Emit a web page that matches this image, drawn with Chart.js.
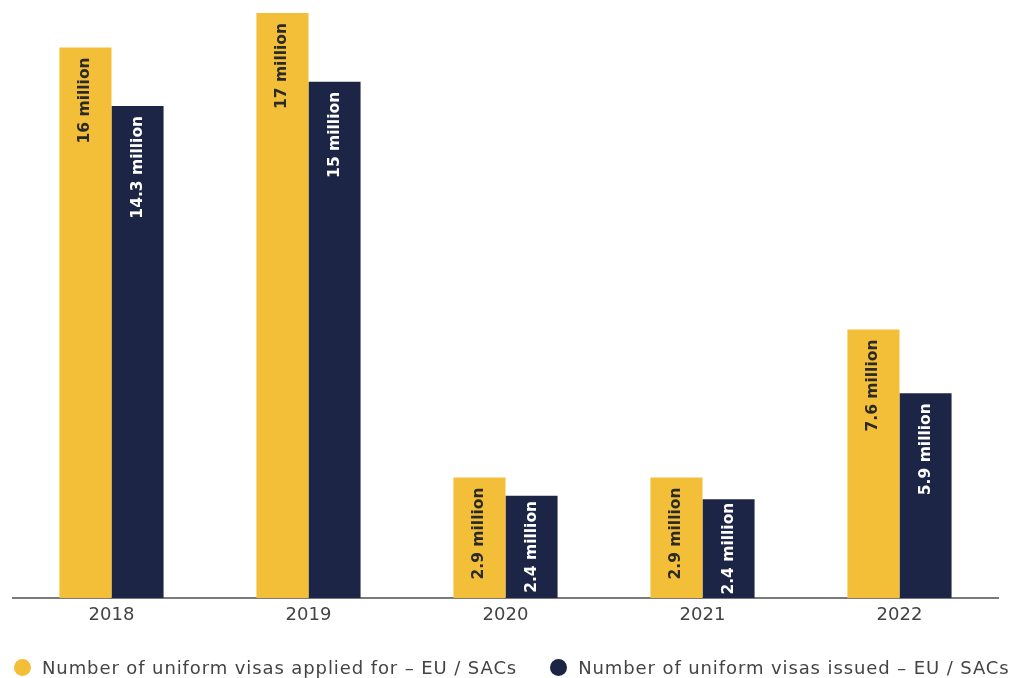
<!DOCTYPE html>
<html>
<head>
<meta charset="utf-8">
<script src="https://cdn.jsdelivr.net/npm/chart.js@4/dist/chart.umd.min.js"></script>
<style>
  html, body { margin: 0; padding: 0; background: #fff; }
  #wrap { position: relative; width: 1014px; height: 678px; }
  #legend {
    position: absolute; left: 14px; top: 657px;
    display: flex; align-items: center;
    font-family: "DejaVu Sans", Verdana, sans-serif; font-size: 18px;
    letter-spacing: 0.9px; color: #444; white-space: nowrap;
  }
  .item { display: flex; align-items: center; margin-right: 33px; }
  .dot { width: 17px; height: 17px; border-radius: 50%; margin-right: 11px; }
</style>
</head>
<body>
<div id="wrap">
  <canvas id="visaChart" width="1014" height="678"></canvas>
  <div id="legend"></div>
</div>
<script>
// data (bar heights in millions)
const years = ["2018", "2019", "2020", "2021", "2022"];
const applied = [16, 17, 3.5, 3.5, 7.8];
const issued = [14.3, 15, 2.97, 2.87, 5.95];
// text printed on the bars
const appliedLabels = ["16 million", "17 million", "2.9 million", "2.9 million", "7.6 million"];
const issuedLabels = ["14.3 million", "15 million", "2.4 million", "2.4 million", "5.9 million"];
const seriesNames = [
  "Number of uniform visas applied for \u2013 EU / SACs",
  "Number of uniform visas issued \u2013 EU / SACs"
];

const yellow = "#F3BF38";
const navy = "#1C2546";
const fontFamily = "DejaVu Sans";

// draws the rotated value text inside every bar
const barText = {
  id: "barText",
  afterDatasetsDraw(chart) {
    const ctx = chart.ctx;
    const allLabels = [appliedLabels, issuedLabels];
    const textColors = ["#2b2a26", "#ffffff"];
    ctx.save();
    ctx.font = "bold 15.5px " + fontFamily;
    chart.data.datasets.forEach((ds, di) => {
      const meta = chart.getDatasetMeta(di);
      meta.data.forEach((bar, i) => {
        const txt = allLabels[di][i];
        const h = bar.base - bar.y;
        const w = ctx.measureText(txt).width;
        let pad = 10;
        if (h - w < 2 * pad) pad = Math.max(3, (h - w) / 2);
        ctx.save();
        ctx.translate(bar.x, bar.y + pad);
        ctx.rotate(-Math.PI / 2);
        ctx.fillStyle = textColors[di];
        ctx.textAlign = "right";
        ctx.textBaseline = "middle";
        ctx.fillText(txt, 0, 0);
        ctx.restore();
      });
    });
    ctx.restore();
  }
};

const chart = new Chart(document.getElementById("visaChart"), {
  type: "bar",
  data: {
    labels: years,
    datasets: [
      { label: seriesNames[0], data: applied, backgroundColor: yellow },
      { label: seriesNames[1], data: issued, backgroundColor: navy }
    ]
  },
  options: {
    responsive: false,
    animation: false,
    layout: { padding: { top: 13, left: 13, right: 16, bottom: 54 } },
    datasets: {
      bar: { categoryPercentage: 0.5286, barPercentage: 1.0 }
    },
    scales: {
      x: {
        grid: { display: false },
        border: { display: true, color: "#7a7a7a", width: 2 },
        ticks: {
          color: "#444",
          font: { family: fontFamily, size: 18, lineHeight: 1 },
          padding: 0
        }
      },
      y: {
        display: false,
        min: 0,
        max: 17
      }
    },
    plugins: {
      legend: { display: false },
      tooltip: { enabled: false }
    }
  },
  plugins: [barText]
});

// html legend under the chart
const legendBox = document.getElementById("legend");
chart.data.datasets.forEach((ds) => {
  const item = document.createElement("div");
  item.className = "item";
  const dot = document.createElement("span");
  dot.className = "dot";
  dot.style.background = ds.backgroundColor;
  const label = document.createElement("span");
  label.textContent = ds.label;
  item.appendChild(dot);
  item.appendChild(label);
  legendBox.appendChild(item);
});
</script>
</body>
</html>
